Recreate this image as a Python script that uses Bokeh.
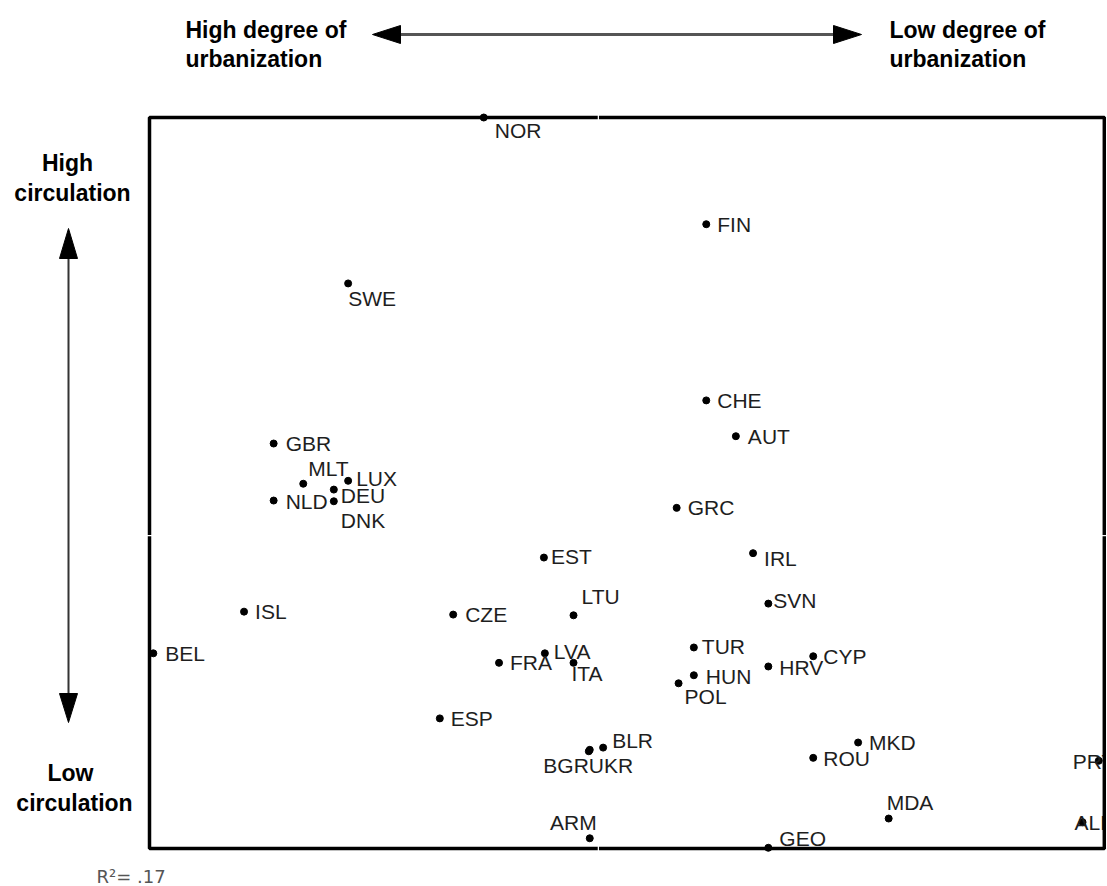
from bokeh.plotting import figure
from bokeh.models import Range1d, ColumnDataSource, Label
from bokeh.core.properties import value
from bokeh.embed import file_html
from bokeh.resources import INLINE

# ---- data (x: urbanization position 0-100, y: circulation 0-100) ----
countries = ["NOR", "FIN", "SWE", "CHE", "AUT", "GBR", "MLT", "LUX", "DEU", "NLD",
             "DNK", "GRC", "EST", "IRL", "ISL", "CZE", "LTU", "SVN", "BEL", "LVA",
             "FRA", "ITA", "TUR", "HUN", "POL", "HRV", "CYP", "ESP", "BGR", "UKR",
             "BLR", "ROU", "MKD", "PRT", "MDA", "ALB", "ARM", "GEO"]
urbanization = [35.0, 58.3, 20.8, 58.3, 61.4, 13.0, 16.1, 20.8, 19.3, 13.0,
                19.3, 55.2, 41.3, 63.2, 9.9, 31.8, 44.4, 64.8, 0.4, 41.4,
                36.6, 44.4, 57.0, 57.0, 55.4, 64.8, 69.5, 30.4, 46.0, 46.1,
                47.5, 69.5, 74.2, 99.4, 77.4, 97.7, 46.1, 64.8]
circulation = [100.0, 85.4, 77.3, 61.3, 56.4, 55.4, 49.9, 50.3, 49.1, 47.6,
               47.5, 46.6, 39.8, 40.4, 32.4, 32.0, 31.9, 33.5, 26.7, 26.7,
               25.4, 25.4, 27.5, 23.7, 22.6, 24.9, 26.3, 17.8, 13.3, 13.5,
               13.8, 12.4, 14.5, 12.0, 4.1, 3.6, 1.4, 0.1]
r_squared = ".17"
# axis crossing marks on the box (mean positions)
x_cross = 47.0
y_cross = 42.8

# ---- label placement (style: pixel offsets from the dot, +dy = down) ----
label_style = {
    "NOR": (11, 13, "left"), "FIN": (11, 0, "left"), "SWE": (0, 15, "left"),
    "CHE": (11, 0, "left"), "AUT": (12, 0, "left"), "GBR": (12, 0, "left"),
    "MLT": (5, -15, "left"), "LUX": (8, -2, "left"), "DEU": (7, 6, "left"),
    "NLD": (12, 1, "left"), "DNK": (7, 19, "left"), "GRC": (11, 0, "left"),
    "EST": (7, -1, "left"), "IRL": (11, 5, "left"), "ISL": (11, 0, "left"),
    "CZE": (12, 0, "left"), "LTU": (8, -19, "left"), "SVN": (5, -3, "left"),
    "BEL": (12, 0, "left"), "LVA": (9, -2, "left"), "FRA": (11, 0, "left"),
    "ITA": (-2, 11, "left"), "TUR": (8, -1, "left"), "HUN": (12, 1, "left"),
    "POL": (6, 13, "left"), "HRV": (11, 1, "left"), "CYP": (10, 0, "left"),
    "ESP": (11, 0, "left"), "BGR": (0, 14, "right"), "UKR": (-1, 16, "left"),
    "BLR": (9, -7, "left"), "ROU": (10, 1, "left"), "MKD": (11, 0, "left"),
    "PRT": (-26, 1, "left"), "MDA": (-2, -16, "left"), "ALB": (-8, 0, "left"),
    "ARM": (7, -16, "right"), "GEO": (11, -9, "left"),
}

W, H = 1106, 884
# plot box in page pixels
FL, FR, FT, FB = 149, 1104, 117, 848
KX = (FR - FL) / 100.0
KY = (FB - FT) / 100.0


def sx(px):
    return (px - FL) / KX


def sy(py):
    return (FB - py) / KY


p = figure(width=W, height=H,
           x_range=Range1d(sx(0), sx(W)), y_range=Range1d(sy(H), sy(0)),
           x_axis_type=None, y_axis_type=None,
           min_border=0, min_border_left=0, min_border_right=0,
           min_border_top=0, min_border_bottom=0,
           output_backend="svg", toolbar_location=None)
p.grid.visible = False
p.outline_line_color = None
p.background_fill_color = "white"
p.border_fill_color = "white"

# plot box
p.quad(left=[0], right=[100], bottom=[0], top=[100], fill_color=None,
       line_color="black", line_width=3.5)
# small white crossing marks on the box sides
bx, by = 3 / KX, 3 / KY
p.segment(x0=[x_cross, x_cross, -bx, 100 - bx], y0=[100 - by, -by, y_cross, y_cross],
          x1=[x_cross, x_cross, bx, 100 + bx], y1=[100 + by, by, y_cross, y_cross],
          line_color="white", line_width=1.2)

src = ColumnDataSource(dict(
    x=urbanization, y=circulation, name=countries,
    dx=[label_style[c][0] for c in countries],
    dy=[label_style[c][1] for c in countries],
    align=[label_style[c][2] for c in countries],
))

p.scatter("x", "y", source=src, size=7, color="black")
p.text("x", "y", text="name", source=src, x_offset="dx", y_offset="dy",
       text_align="align", text_baseline="middle",
       text_font=value("Liberation Sans"), text_font_size="21px", text_color="#1e1e1e")

# mask right of plot box so labels are cut at the box edge
p.quad(left=[100.18], right=[sx(W) + 5], bottom=[sy(H) - 5], top=[sy(0) + 5],
       fill_color="white", line_color=None)
p.segment(x0=[100], y0=[0], x1=[100], y1=[100], line_color="black", line_width=3.5)
p.segment(x0=[100 - bx], y0=[y_cross], x1=[100 + bx], y1=[y_cross],
          line_color="white", line_width=1.2)

# ---- header / side annotations ----
bold = dict(text_font="Liberation Sans", text_font_style="bold", text_color="black")
for txt, px, py in [("High degree of", 185, 29), ("urbanization", 185, 58),
                    ("Low degree of", 889, 29), ("urbanization", 889, 58)]:
    p.add_layout(Label(x=sx(px), y=sy(py), text=txt, text_font_size="23px",
                       text_align="left", text_baseline="alphabetic", **bold))
for txt, px, py in [("High", 67, 162), ("circulation", 72, 192),
                    ("Low", 70, 772), ("circulation", 74, 802)]:
    p.add_layout(Label(x=sx(px), y=sy(py), text=txt, text_font_size="23px",
                       text_align="center", text_baseline="alphabetic", **bold))

p.add_layout(Label(x=sx(96), y=sy(876), text="R\u00b2= " + r_squared,
                   text_font="DejaVu Sans", text_font_size="18px", text_color="#555555",
                   text_align="left", text_baseline="alphabetic"))

# horizontal double arrow
p.segment(x0=[sx(392)], y0=[sy(34)], x1=[sx(842)], y1=[sy(34)],
          line_color="#555555", line_width=3)
p.patches(xs=[[sx(372), sx(400), sx(400)], [sx(861), sx(833), sx(833)]],
          ys=[[sy(34), sy(25), sy(43)], [sy(34), sy(25), sy(43)]],
          fill_color="black", line_color="black", line_width=1)
# vertical double arrow
p.segment(x0=[sx(68)], y0=[sy(250)], x1=[sx(68)], y1=[sy(700)],
          line_color="#333333", line_width=2)
p.patches(xs=[[sx(68), sx(59), sx(77)], [sx(68), sx(59), sx(77)]],
          ys=[[sy(228), sy(258), sy(258)], [sy(722), sy(693), sy(693)]],
          fill_color="black", line_color="black", line_width=1)

open("out.html", "w").write(file_html(p, INLINE))
